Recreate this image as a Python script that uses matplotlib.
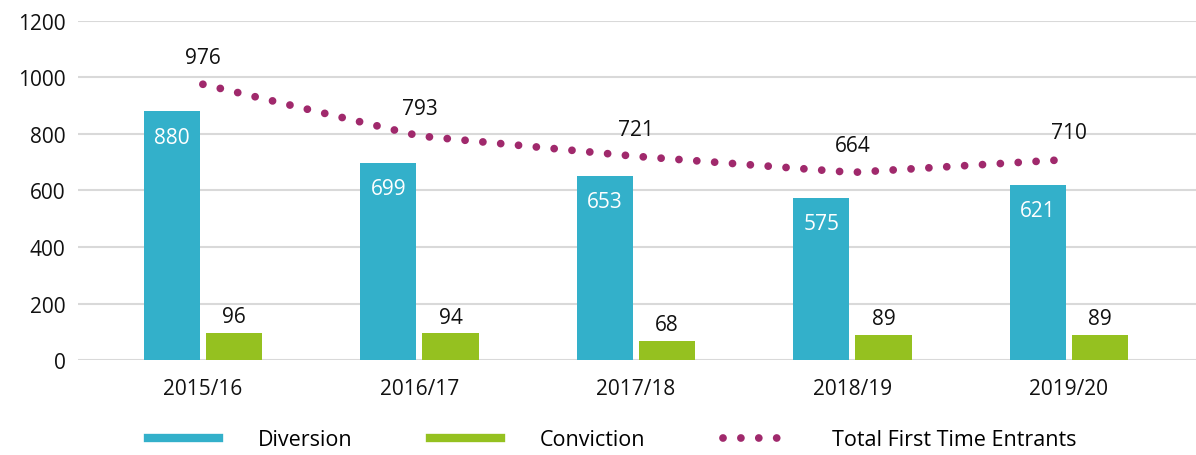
import matplotlib.pyplot as plt
import numpy as np
from matplotlib.lines import Line2D

plt.rcParams['font.family'] = ['Open Sans', 'DejaVu Sans']

years = ['2015/16', '2016/17', '2017/18', '2018/19', '2019/20']
diversion = [880, 699, 653, 575, 621]
conviction = [96, 94, 68, 89, 89]
total_fte = [976, 793, 721, 664, 710]

blue = '#33B0CA'
green = '#95C120'
purple = '#A0296C'

fig = plt.figure(figsize=(11.96, 4.56), dpi=100)
ax = fig.add_axes([0.0652, 0.2083, 0.9348, 0.7435])

x = np.arange(len(years))
w = 0.26
gap = 0.014
ax.bar(x - w / 2 - gap, diversion, w, color=blue, zorder=3)
ax.bar(x + w / 2 + gap, conviction, w, color=green, zorder=3)

# dotted total line
dots = (0, (0.001, 2.3))
ax.plot(x, total_fte, color=purple, lw=5.6, linestyle=dots,
        dash_capstyle='round', zorder=4)

# value labels
for xi, v in zip(x, diversion):
    ax.annotate(str(v), (xi - w / 2 - gap, v), xytext=(0, -26), textcoords='offset pixels',
                ha='center', va='center', color='white', fontsize=15)
for xi, v in zip(x, conviction):
    ax.annotate(str(v), (xi + w / 2 + gap, v), xytext=(0, 16), textcoords='offset pixels',
                ha='center', va='center', color='#111111', fontsize=15)
for xi, v in zip(x, total_fte):
    ax.annotate(str(v), (xi, v), xytext=(0, 27), textcoords='offset pixels',
                ha='center', va='center', color='#111111', fontsize=15)

ax.set_ylim(0, 1200)
ax.set_yticks(range(0, 1201, 200))
ax.set_xlim(-0.577, 4.587)
ax.set_xticks(x)
ax.set_xticklabels(years)
ax.tick_params(axis='both', length=0, labelsize=15, colors='#111111')
ax.tick_params(axis='x', pad=13)
ax.tick_params(axis='y', pad=9)
ax.grid(axis='y', color='#d9d9d9', lw=1.5, zorder=0)
for s in ax.spines.values():
    s.set_visible(False)

handles = [
    Line2D([], [], color=blue, lw=6),
    Line2D([], [], color=green, lw=6),
    Line2D([], [], color=purple, lw=5.6, linestyle=dots, dash_capstyle='round'),
]
fig.legend(handles, ['Diversion', 'Conviction', 'Total First Time Entrants'],
           loc='center', bbox_to_anchor=(0.512, 0.033), ncol=3, frameon=False,
           fontsize=15.5, handlelength=3.3, handletextpad=1.8, columnspacing=3.6)

fig.savefig('out.png', dpi=100)
